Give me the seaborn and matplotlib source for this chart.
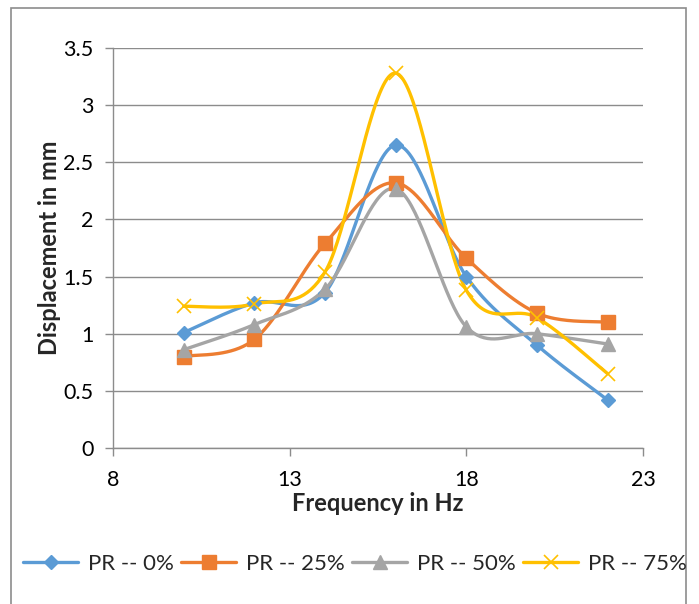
import numpy as np
import pandas as pd
import matplotlib
matplotlib.use("Agg")
import matplotlib.pyplot as plt
import seaborn as sns
from matplotlib.lines import Line2D
from matplotlib.patches import Rectangle

freq = [10, 12, 14, 16, 18, 20, 22]
pr0 = [1.01, 1.27, 1.36, 2.65, 1.50, 0.90, 0.42]
pr25 = [0.80, 0.95, 1.79, 2.32, 1.66, 1.18, 1.10]
pr50 = [0.86, 1.08, 1.39, 2.27, 1.06, 1.00, 0.91]
pr75 = [1.24, 1.26, 1.54, 3.28, 1.38, 1.14, 0.65]
labels = ["PR -- 0%", "PR -- 25%", "PR -- 50%", "PR -- 75%"]
x_ticks = [8, 13, 18, 23]
y_ticks = [0, 0.5, 1, 1.5, 2, 2.5, 3, 3.5]
y_tick_labels = ["0", "0.5", "1", "1.5", "2", "2.5", "3", "3.5"]

colors = ["#5B9BD5", "#ED7D31", "#A5A5A5", "#FFC000"]
markers = ["D", "s", "^", "x"]
msizes = [7.5, 10, 9.5, 10]

sns.set_theme(style="white")
plt.rcParams["font.family"] = ["Lato", "DejaVu Sans"]


def smooth(xs, ys, n=40):
    # Excel-style smoothed line: cubic Bezier with Catmull-Rom control points
    xs = np.asarray(xs, float)
    ys = np.asarray(ys, float)
    px, py = [], []
    m = len(xs)
    for i in range(m - 1):
        x0, y0 = (xs[i - 1], ys[i - 1]) if i > 0 else (xs[i], ys[i])
        x1, y1 = xs[i], ys[i]
        x2, y2 = xs[i + 1], ys[i + 1]
        x3, y3 = (xs[i + 2], ys[i + 2]) if i + 2 < m else (xs[i + 1], ys[i + 1])
        c1x, c1y = x1 + (x2 - x0) / 6, y1 + (y2 - y0) / 6
        c2x, c2y = x2 - (x3 - x1) / 6, y2 - (y3 - y1) / 6
        t = np.linspace(0, 1, n, endpoint=(i == m - 2))
        bx = (1 - t) ** 3 * x1 + 3 * (1 - t) ** 2 * t * c1x + 3 * (1 - t) * t ** 2 * c2x + t ** 3 * x2
        by = (1 - t) ** 3 * y1 + 3 * (1 - t) ** 2 * t * c1y + 3 * (1 - t) * t ** 2 * c2y + t ** 3 * y2
        px.extend(bx)
        py.extend(by)
    return np.array(px), np.array(py)


fig = plt.figure(figsize=(6.99, 6.04), dpi=100)
ax = fig.add_axes([113 / 699, 1 - 448 / 604, (643 - 113) / 699, (448 - 48) / 604])

series = [pr0, pr25, pr50, pr75]
handles = []
for ys, lab, c, mk, ms in zip(series, labels, colors, markers, msizes):
    sx, sy = smooth(freq, ys)
    df = pd.DataFrame({"x": sx, "y": sy})
    sns.lineplot(data=df, x="x", y="y", ax=ax, color=c, linewidth=2.4, sort=False,
                 estimator=None, legend=False)
    mdf = pd.DataFrame({"x": freq, "y": ys})
    if mk == "x":
        ax.plot(mdf["x"], mdf["y"], linestyle="none", marker="x", markersize=ms,
                markeredgecolor=c, markeredgewidth=1.2, zorder=3)
    else:
        ax.plot(mdf["x"], mdf["y"], linestyle="none", marker=mk, markersize=ms,
                markerfacecolor=c, markeredgecolor=c, zorder=3)
    handles.append(Line2D([0], [0], color=c, linewidth=2.4, marker=mk, markersize=ms,
                          markerfacecolor=c, markeredgecolor=c,
                          markeredgewidth=1.2 if mk == "x" else 1.0))

ax.set_xlim(8, 23)
ax.set_ylim(0, 3.5)
ax.set_xticks(x_ticks)
ax.set_xticklabels([str(t) for t in x_ticks], fontsize=15.5)
ax.set_yticks(y_ticks)
ax.set_yticklabels(y_tick_labels, fontsize=15.5)
ax.yaxis.grid(True, color="#8c8c8c", linewidth=1.0)
ax.xaxis.grid(False)
ax.set_axisbelow(True)
for s in ["top", "right"]:
    ax.spines[s].set_visible(False)
for s in ["left", "bottom"]:
    ax.spines[s].set_color("#8c8c8c")
    ax.spines[s].set_linewidth(1.0)
ax.tick_params(axis="both", which="major", direction="out", length=6, width=1.0,
               color="#8c8c8c", labelcolor="black", bottom=True, left=True)
ax.tick_params(axis="x", pad=10)
ax.tick_params(axis="y", pad=8)

ax.set_xlabel("Frequency in Hz", fontsize=17, fontweight="bold", labelpad=1)
ax.set_ylabel("Displacement in mm", fontsize=17, fontweight="bold", labelpad=2)

fig.legend(handles=handles, labels=labels, loc="center", bbox_to_anchor=(355 / 699, 1 - 564 / 604),
           ncol=4, frameon=False, fontsize=16, handlelength=2.45, handletextpad=0.45,
           columnspacing=0.35, borderpad=0, borderaxespad=0)

fig.patches.append(Rectangle((11 / 699, -0.05), (686 - 11) / 699, 1.05 - 8 / 604,
                             transform=fig.transFigure, fill=False,
                             edgecolor="#8c8c8c", linewidth=1.2))

fig.savefig("out.png", dpi=100)
